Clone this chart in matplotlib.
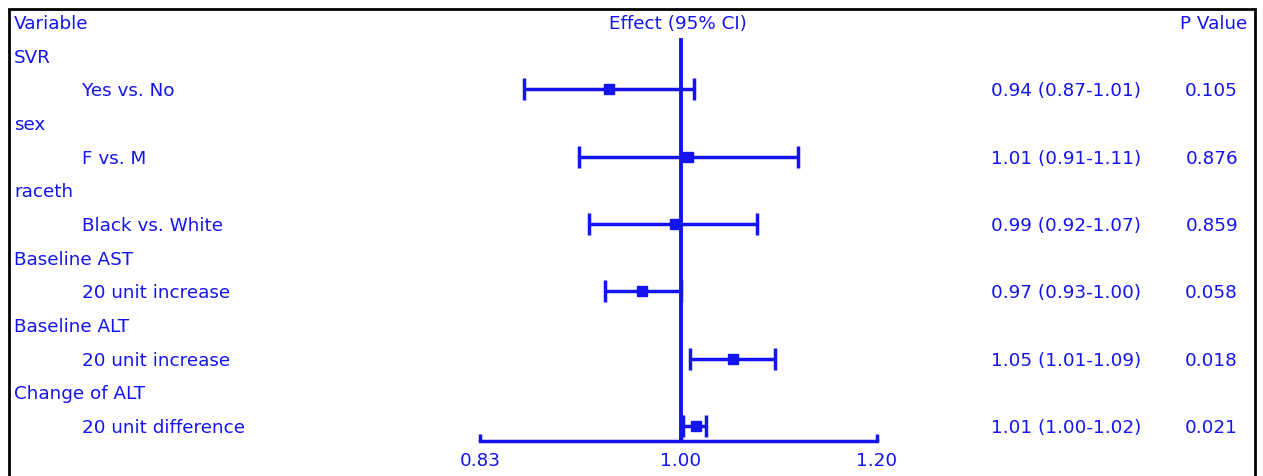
import matplotlib.pyplot as plt
import matplotlib.transforms as mtransforms
from matplotlib.patches import Rectangle
import numpy as np

plt.rcParams['font.family'] = ['DejaVu Sans']

# rows of the table (group headers and sub rows)
groups = ["SVR", "sex", "raceth", "Baseline AST", "Baseline ALT", "Change of ALT"]
levels = ["Yes vs. No", "F vs. M", "Black vs. White", "20 unit increase",
          "20 unit increase", "20 unit difference"]
est = [0.936, 1.007, 0.995, 0.965, 1.050, 1.014]
lo = [0.865, 0.910, 0.918, 0.932, 1.009, 1.002]
hi = [1.012, 1.115, 1.073, 1.000, 1.092, 1.024]
ci_text = ["0.94 (0.87-1.01)", "1.01 (0.91-1.11)", "0.99 (0.92-1.07)",
           "0.97 (0.93-1.00)", "1.05 (1.01-1.09)", "1.01 (1.00-1.02)"]
pvals = ["0.105", "0.876", "0.859", "0.058", "0.018", "0.021"]
xticks = [0.83, 1.00, 1.20]

blue = "#1414f0"
fs = 13.2
W, H = 1263, 476
fig = plt.figure(figsize=(W / 100, H / 100), dpi=100)

# plot area: x 480..877 px, y from top border to axis line at 441 px
ax = fig.add_axes([480 / W, (H - 441) / H, 397 / W, (441 - 9) / H])
ax.set_xscale("log")
ax.set_xlim(0.83, 1.20)
# row i sits at pixel 22 + 33.67*i
ax.set_ylim(12.44, -0.386)
for s in ["top", "left", "right"]:
    ax.spines[s].set_visible(False)
ax.spines["bottom"].set_color(blue)
ax.spines["bottom"].set_linewidth(2.5)
ax.set_yticks([])
ax.set_xticks(xticks)
ax.set_xticklabels([f"{t:.2f}" for t in xticks])
ax.xaxis.set_minor_locator(plt.NullLocator())
ax.tick_params(axis="x", direction="in", length=5, width=2.5, color=blue,
               labelcolor=blue, labelsize=fs, pad=8)
ax.patch.set_alpha(0)

rows = np.arange(len(groups)) * 2 + 2
ax.plot([1, 1], [0.54, 12.44], color=blue, lw=2.8, clip_on=False, zorder=2)
ax.errorbar(est, rows, xerr=[np.array(est) - np.array(lo), np.array(hi) - np.array(est)],
            fmt="s", color=blue, ms=7, lw=2.5, capsize=8, capthick=2.5,
            clip_on=False, zorder=3)

def fx(px):
    return px / W

blend = mtransforms.blended_transform_factory(fig.transFigure, ax.transData)

kw = dict(color=blue, fontsize=fs, va="center_baseline", transform=blend)
ax.text(fx(14), 0, "Variable", ha="left", **kw)
ax.text(fx(678), 0, "Effect (95% CI)", ha="center", **kw)
ax.text(fx(1247), 0, "P Value", ha="right", **kw)
for i in range(len(groups)):
    ax.text(fx(14), rows[i] - 1, groups[i], ha="left", **kw)
    ax.text(fx(82), rows[i], levels[i], ha="left", **kw)
    ax.text(fx(1141), rows[i], ci_text[i], ha="right", **kw)
    ax.text(fx(1238), rows[i], pvals[i], ha="right", **kw)

fig.patches.append(Rectangle((9 / W, -0.2), (1255 - 9) / W, 1.2 - 9 / H,
                             transform=fig.transFigure, fill=False,
                             edgecolor="black", lw=2))

fig.savefig("out.png", dpi=100)
